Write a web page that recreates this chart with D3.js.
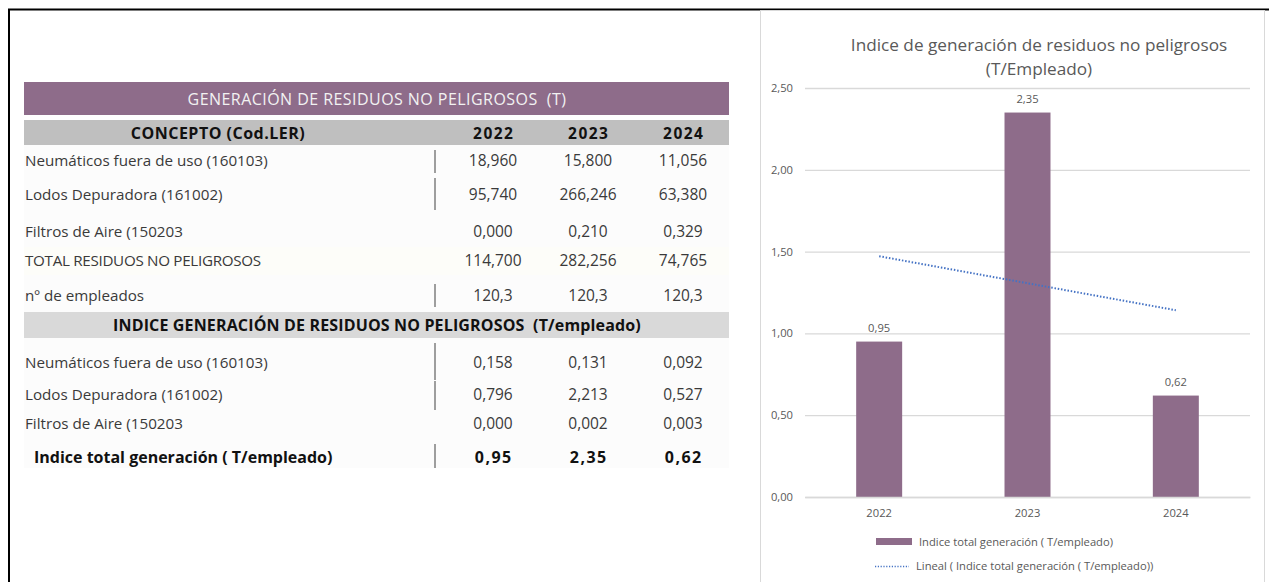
<!DOCTYPE html>
<html>
<head>
<meta charset="utf-8">
<script src="https://cdn.jsdelivr.net/npm/d3@7"></script>
<style>
  body { margin: 0; background: #fff; }
  svg text { font-family: "Open Sans", Lato, sans-serif; white-space: pre; }
</style>
</head>
<body>
<svg id="chart" width="1269" height="582"></svg>
<script>
// table data
var years = ['2022', '2023', '2024']
var tonRows = ['Neumáticos fuera de uso (160103)', 'Lodos Depuradora (161002)', 'Filtros de Aire (150203', 'TOTAL RESIDUOS NO PELIGROSOS', 'nº de empleados']
var neumaticosT = [18.960, 15.800, 11.056]
var lodosT = [95.740, 266.246, 63.380]
var filtrosT = [0.000, 0.210, 0.329]
var totalT = [114.700, 282.256, 74.765]
var empleados = [120.3, 120.3, 120.3]

var indexRows = ['Neumáticos fuera de uso (160103)', 'Lodos Depuradora (161002)', 'Filtros de Aire (150203', 'Indice total generación ( T/empleado)']
var neumaticosI = [0.158, 0.131, 0.092]
var lodosI = [0.796, 2.213, 0.527]
var filtrosI = [0.000, 0.002, 0.003]
var indiceTotal = [0.95, 2.35, 0.62]

// chart data
var chartTitle = ['Indice de generación de residuos no peligrosos', '(T/Empleado)']
var yTicks = [0, 0.5, 1, 1.5, 2, 2.5]
var barLegend = 'Indice total generación ( T/empleado)'
var trendLegend = 'Lineal ( Indice total generación ( T/empleado))'

var es = d3.formatLocale({decimal: ',', thousands: '.', grouping: [3], currency: ['', '€']})
var f3 = es.format('.3f'), f1 = es.format('.1f'), f2 = es.format('.2f')

var svg = d3.select('#chart')

// outer frame
svg.append('line').attr('x1', 8).attr('x2', 1269).attr('y1', 9.5).attr('y2', 9.5)
	.attr('stroke', '#000').attr('stroke-width', 2)
svg.append('line').attr('x1', 9).attr('x2', 9).attr('y1', 9).attr('y2', 582)
	.attr('stroke', '#000').attr('stroke-width', 2)

// ---------- TABLE ----------
var tab = svg.append('g')
var tLeft = 24, tRight = 729
var colX = d3.scalePoint().domain(years).range([493, 683])
var textCol = '#3a3a3a'

tab.append('rect').attr('x', tLeft).attr('y', 145).attr('width', tRight - tLeft).attr('height', 323)
	.attr('fill', '#fcfcfc')

tab.append('rect').attr('x', tLeft).attr('y', 82).attr('width', tRight - tLeft).attr('height', 33)
	.attr('fill', '#8e6c8a')
tab.append('text').attr('x', 377).attr('y', 105).attr('text-anchor', 'middle')
	.attr('fill', '#f2f2f2').style('font-size', '16px').style('letter-spacing', '0.45px')
	.text('GENERACIÓN DE RESIDUOS NO PELIGROSOS  (T)')

tab.append('rect').attr('x', tLeft).attr('y', 120).attr('width', tRight - tLeft).attr('height', 25)
	.attr('fill', '#bfbfbf')
tab.append('text').attr('x', 218).attr('y', 139).attr('text-anchor', 'middle')
	.attr('fill', '#111').style('font-size', '16px').style('font-weight', 'bold').style('letter-spacing', '0.5px')
	.text('CONCEPTO (Cod.LER)')
tab.selectAll('.yh').data(years).enter().append('text')
	.attr('x', d => colX(d) + 0.75).attr('y', 139).attr('text-anchor', 'middle')
	.attr('fill', '#111').style('font-size', '15.5px').style('font-weight', 'bold').style('letter-spacing', '1.5px')
	.text(d => d)

tab.append('rect').attr('x', tLeft).attr('y', 247).attr('width', tRight - tLeft).attr('height', 28)
	.attr('fill', '#fdfdf9')

var tonValues = [neumaticosT, lodosT, filtrosT, totalT, empleados]
var tonFmt = [f3, f3, f3, f3, f1]
var tonY = [166, 200, 237, 266, 301]
var tonSep = [[150, 173], [178, 210], null, null, [284, 307]]

tonRows.forEach((name, i) => {
	tab.append('text').attr('x', 25).attr('y', tonY[i]).attr('fill', textCol)
		.style('font-size', '15.2px').style('letter-spacing', i == 3 ? '-0.3px' : '0')
		.text(name)
	tab.selectAll(null).data(tonValues[i]).enter().append('text')
		.attr('x', (d, j) => colX(years[j])).attr('y', tonY[i]).attr('text-anchor', 'middle')
		.attr('fill', textCol).style('font-size', '15.5px')
		.text(d => tonFmt[i](d))
	if (tonSep[i]) {
		tab.append('line').attr('x1', 435).attr('x2', 435).attr('y1', tonSep[i][0]).attr('y2', tonSep[i][1])
			.attr('stroke', '#7f7f7f').attr('stroke-width', 1.5)
	}
})

tab.append('rect').attr('x', tLeft).attr('y', 312).attr('width', tRight - tLeft).attr('height', 26)
	.attr('fill', '#d9d9d9')
tab.append('text').attr('x', 377).attr('y', 331).attr('text-anchor', 'middle')
	.attr('fill', '#111').style('font-size', '16px').style('font-weight', 'bold').style('letter-spacing', '0.15px')
	.text('INDICE GENERACIÓN DE RESIDUOS NO PELIGROSOS  (T/empleado)')

var idxValues = [neumaticosI, lodosI, filtrosI, indiceTotal]
var idxFmt = [f3, f3, f3, f2]
var idxY = [368, 400, 429, 463]
var idxSep = [[343, 380], [381, 410], null, [444, 468]]

indexRows.forEach((name, i) => {
	var bold = i == 3
	tab.append('text').attr('x', bold ? 34 : 25).attr('y', idxY[i])
		.attr('fill', bold ? '#111' : textCol)
		.style('font-size', bold ? '16px' : '15.2px').style('font-weight', bold ? 'bold' : 'normal')
		.text(name)
	tab.selectAll(null).data(idxValues[i]).enter().append('text')
		.attr('x', (d, j) => colX(years[j]) + (bold ? 0.75 : 0)).attr('y', idxY[i]).attr('text-anchor', 'middle')
		.attr('fill', bold ? '#111' : textCol).style('font-size', bold ? '16px' : '15.5px')
		.style('font-weight', bold ? 'bold' : 'normal').style('letter-spacing', bold ? '1.5px' : '0')
		.text(d => idxFmt[i](d))
	if (idxSep[i]) {
		tab.append('line').attr('x1', 435).attr('x2', 435).attr('y1', idxSep[i][0]).attr('y2', idxSep[i][1])
			.attr('stroke', '#7f7f7f').attr('stroke-width', 1.5)
	}
})

// ---------- CHART ----------
var ch = svg.append('g')
ch.append('rect').attr('x', 760.5).attr('y', 10.5).attr('width', 504).attr('height', 580)
	.attr('fill', '#fff').attr('stroke', '#d9d9d9')

ch.selectAll('.title').data(chartTitle).enter().append('text')
	.attr('x', 1039).attr('y', (d, i) => 51 + i * 24).attr('text-anchor', 'middle')
	.attr('fill', '#595959').style('font-size', '17.2px')
	.text(d => d)

var x = d3.scaleBand().domain(years).range([805, 1250]).paddingInner(0.69).paddingOuter(0.345)
var y = d3.scaleLinear().domain([0, 2.5]).range([497, 88])

// gridlines + y labels
ch.append('g').attr('transform', 'translate(805,0)')
	.call(d3.axisLeft(y).tickValues(yTicks).tickSize(-445).tickPadding(12).tickFormat(es.format('.2f')))
	.call(g => g.select('.domain').remove())
	.call(g => g.selectAll('line').attr('stroke', '#d9d9d9').attr('stroke-width', 1.3))
	.call(g => g.selectAll('text').attr('fill', '#595959').style('font-size', '11.2px'))

ch.selectAll('.bar').data(indiceTotal).enter().append('rect')
	.attr('x', (d, i) => x(years[i])).attr('width', x.bandwidth())
	.attr('y', d => y(d)).attr('height', d => y(0) - y(d))
	.attr('fill', '#8e6c8a')

ch.selectAll('.lbl').data(indiceTotal).enter().append('text')
	.attr('x', (d, i) => x(years[i]) + x.bandwidth() / 2).attr('y', d => y(d) - 10)
	.attr('text-anchor', 'middle').attr('fill', '#595959').style('font-size', '11.2px')
	.text(d => f2(d))

ch.append('g').attr('transform', 'translate(0,497)')
	.call(d3.axisBottom(x).tickSize(0).tickPadding(12))
	.call(g => g.select('.domain').attr('stroke', '#d9d9d9').attr('stroke-width', 1.3))
	.call(g => g.selectAll('text').attr('fill', '#595959').style('font-size', '11.2px'))

// linear trend (least squares over the bar values)
var xs = indiceTotal.map((d, i) => i)
var mx = d3.mean(xs), my = d3.mean(indiceTotal)
var slope = d3.sum(xs, (v, i) => (v - mx) * (indiceTotal[i] - my)) / d3.sum(xs, v => (v - mx) * (v - mx))
var icpt = my - slope * mx
var trend = years.map((yr, i) => [x(yr) + x.bandwidth() / 2, y(icpt + slope * i)])
ch.append('path').attr('d', d3.line()(trend))
	.attr('fill', 'none').attr('stroke', '#4472c4').attr('stroke-width', 2).attr('stroke-dasharray', '1.5,1.8')

// legend
ch.append('rect').attr('x', 876).attr('y', 538).attr('width', 36).attr('height', 7).attr('fill', '#8e6c8a')
ch.append('text').attr('x', 919).attr('y', 546).attr('fill', '#595959').style('font-size', '11.2px').text(barLegend)
ch.append('line').attr('x1', 875).attr('x2', 909).attr('y1', 566.5).attr('y2', 566.5)
	.attr('stroke', '#4472c4').attr('stroke-width', 1.5).attr('stroke-dasharray', '1.2,1.6')
ch.append('text').attr('x', 916).attr('y', 570).attr('fill', '#595959').style('font-size', '11.2px').text(trendLegend)
</script>
</body>
</html>
